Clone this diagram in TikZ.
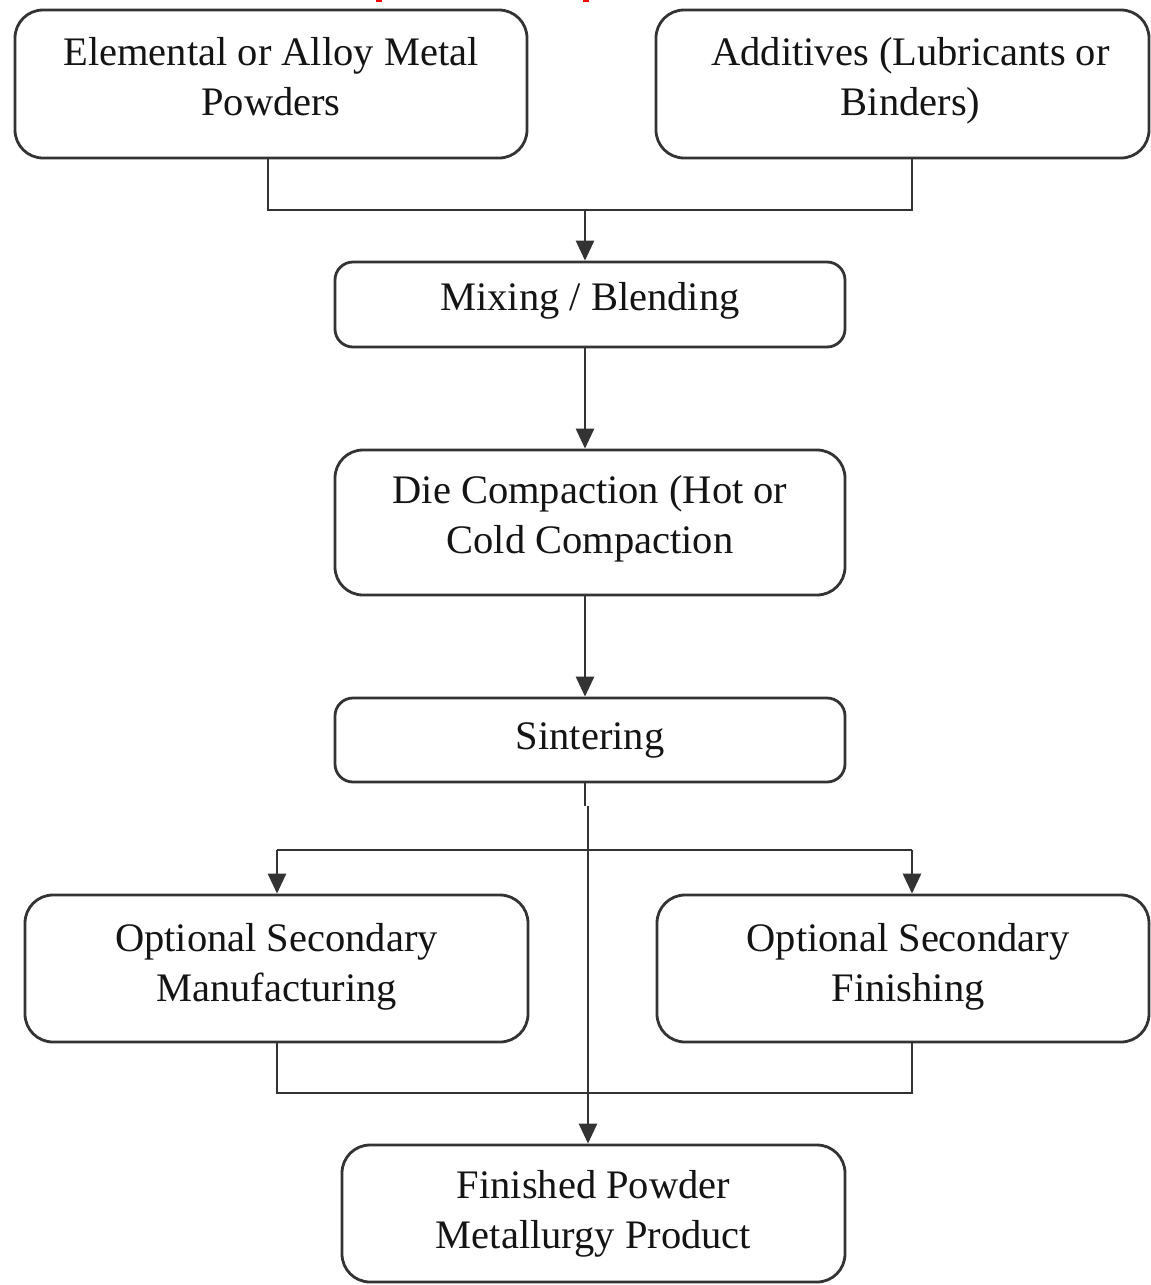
\documentclass[tikz,border=0pt]{standalone}
\usepackage{fontspec}
\setmainfont{Liberation Serif}
\usetikzlibrary{arrows.meta}
\begin{document}
\begin{tikzpicture}[x=1pt,y=-1pt,
  box/.style={draw=black!80, line width=2.8pt, rounded corners=28pt,
    inner sep=0pt},
  sbox/.style={box, rounded corners=18pt},
  txt/.style={align=center, inner sep=0pt, font=\fontsize{40.5}{50}\selectfont, text=black!92},
  conn/.style={draw=black!80, line width=2.8pt},
  arr/.style={conn, -{Triangle[length=20pt,width=18pt]}}]
\useasboundingbox (0,0) rectangle (1151,1285);
% red remnants at the top
\fill[red] (376,0) rectangle (382,1.8);
\fill[red] (583,0) rectangle (589,1.8);

\node[box, minimum width=512pt, minimum height=148pt] (elem) at (271,84) {};
\node[box, minimum width=493pt, minimum height=148pt] (add) at (902.5,84) {};
\node[sbox, minimum width=510pt, minimum height=85pt] (mix) at (590,304.5) {};
\node[box, minimum width=510pt, minimum height=145pt] (die) at (590,522.5) {};
\node[sbox, minimum width=510pt, minimum height=84pt] (sin) at (590,740) {};
\node[box, minimum width=503pt, minimum height=147pt] (osm) at (276.5,968.5) {};
\node[box, minimum width=492pt, minimum height=147pt] (osf) at (903,968.5) {};
\node[box, minimum width=503pt, minimum height=137pt] (fin) at (593.5,1213.5) {};

\node[txt] (elemt) at ([yshift=7pt]elem.center) {Elemental or Alloy Metal\\Powders};
\node[txt] (addt) at ([xshift=8pt,yshift=3pt]add.center) {Additives (Lubricants or\\Binders)};
\node[txt] (mixt) at ([yshift=4pt]mix.center) {Mixing / Blending};
\node[txt] (diet) at ([yshift=4pt]die.center) {Die Compaction (Hot or\\Cold Compaction};
\node[txt] (sint) at (sin.center) {Sintering};
\node[txt] (osmt) at ([yshift=2pt]osm.center) {Optional Secondary\\Manufacturing};
\node[txt] (osft) at ([xshift=5pt,yshift=2pt]osf.center) {Optional Secondary\\Finishing};
\node[txt] (fint) at (fin.center) {Finished Powder\\Metallurgy Product};

\coordinate (j1) at (585,210);
\coordinate (j2) at (588,850);
\coordinate (j3) at (588,1093);
\coordinate (s1) at (585,806);

% top merge
\draw[conn] (elem.south -| 268,0) |- (j1) -| (add.south -| 912,0);
\draw[arr] (j1) -- (mix.north -| j1);
\draw[arr] (mix.south -| 585,0) -- (die.north -| 585,0);
\draw[arr] (die.south -| 585,0) -- (sin.north -| 585,0);
% sintering output
\draw[conn] (sin.south -| s1) -- (s1);
\draw[arr] (s1 -| j2) -- (fin.north -| j2);
\draw[conn] (277,850) -- (912,850);
\draw[arr] (277,850) -- (osm.north -| 277,0);
\draw[arr] (912,850) -- (osf.north -| 912,0);
% bottom merge
\draw[conn] (osm.south -| 277,0) |- (j3) -| (osf.south -| 912,0);
\end{tikzpicture}
\end{document}
